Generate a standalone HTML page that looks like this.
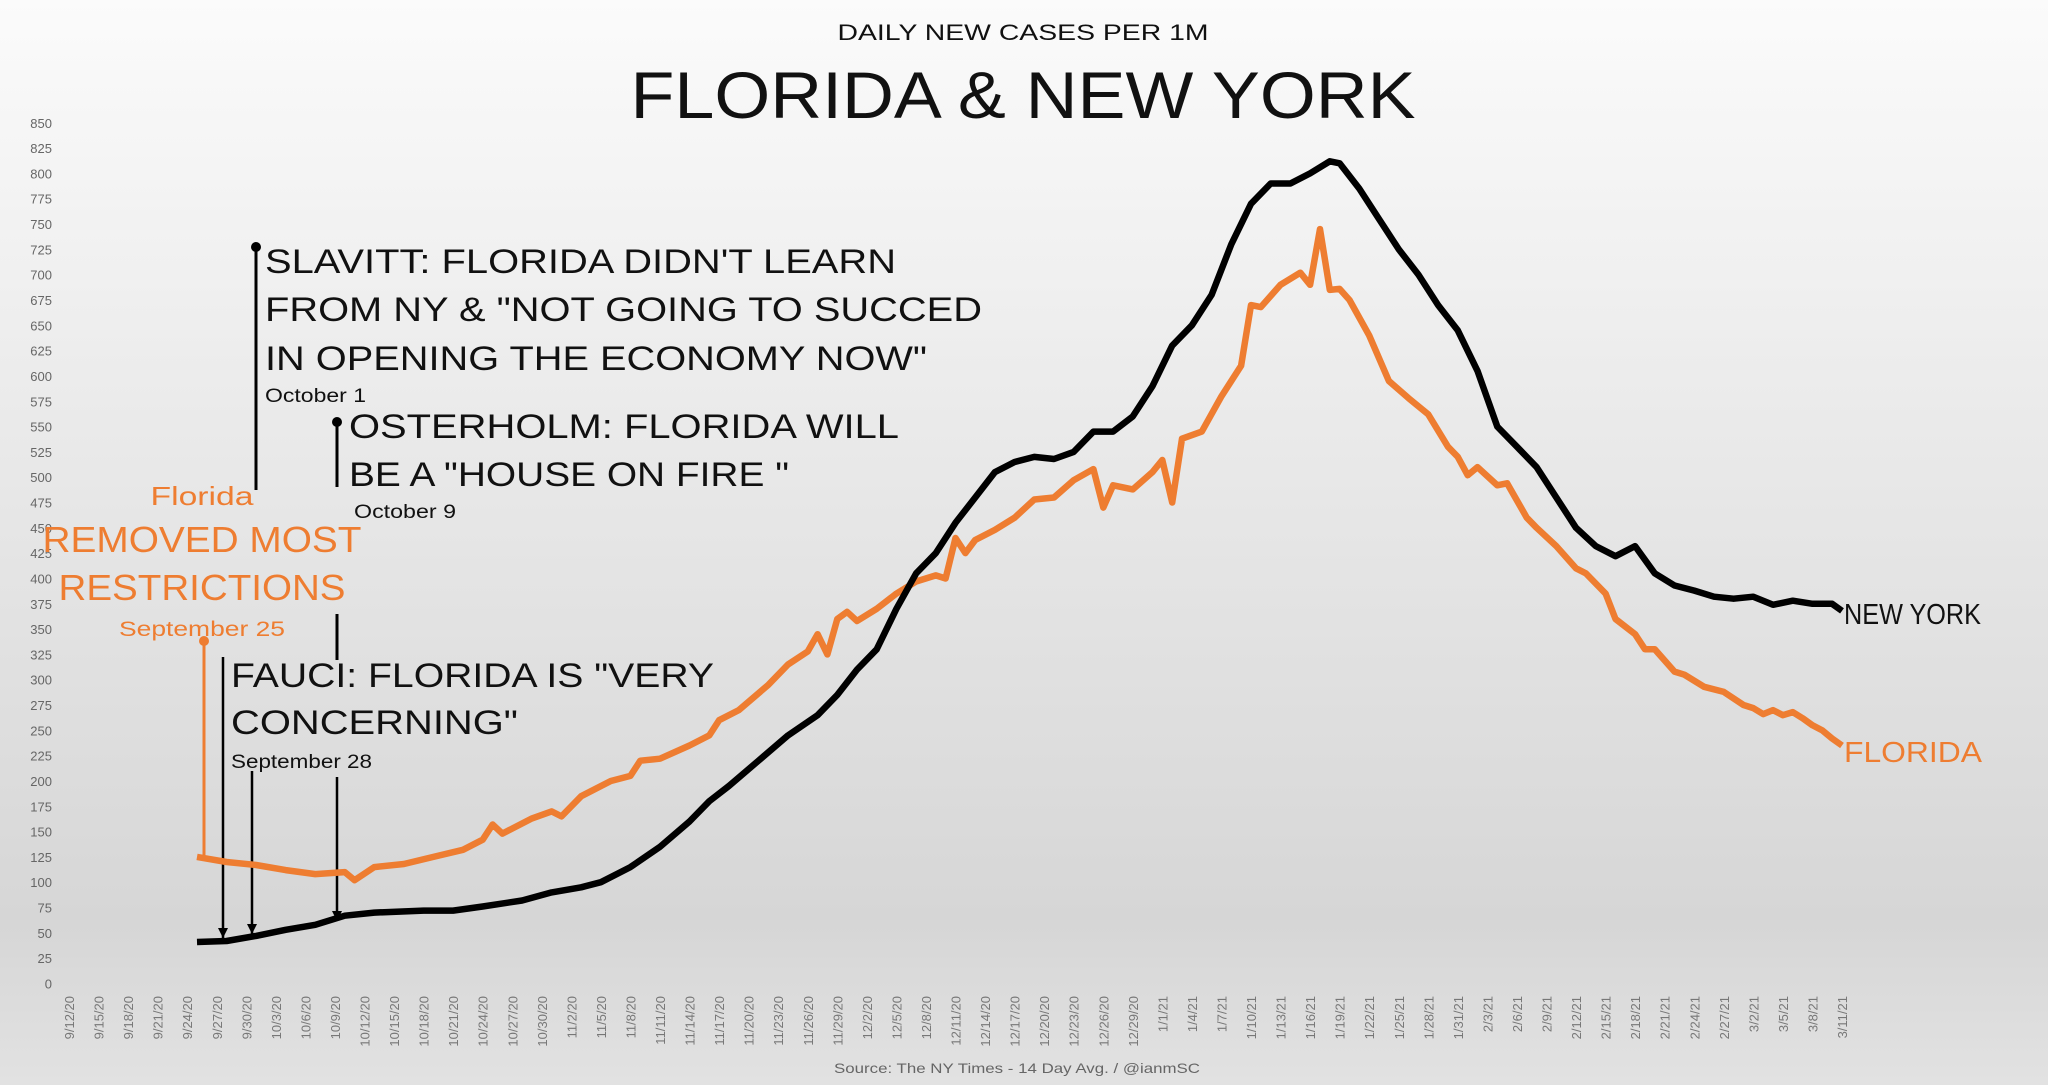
<!DOCTYPE html>
<html><head><meta charset="utf-8"><style>
html,body{margin:0;padding:0;background:#fff}
svg{display:block;font-family:"Liberation Sans",sans-serif}
</style></head><body>
<svg id="chart" width="2048" height="1085" viewBox="0 0 2048 1085">
<defs><linearGradient id="bg" x1="0" y1="0" x2="0" y2="1">
<stop offset="0" stop-color="#fbfbfb"/><stop offset="0.85" stop-color="#d6d6d6"/><stop offset="1" stop-color="#e2e2e2"/></linearGradient>
<marker id="arr" markerWidth="12" markerHeight="12" refX="10" refY="5" orient="auto" markerUnits="userSpaceOnUse"><path d="M0,0 L10,5 L0,10 Z" fill="#000"/></marker></defs>
<rect x="0" y="0" width="2048" height="1085" fill="url(#bg)"/>
<text x="1023" y="40" font-size="22" text-anchor="middle" fill="#111" textLength="371" lengthAdjust="spacingAndGlyphs">DAILY NEW CASES PER 1M</text>
<text x="1023" y="118" font-size="66" text-anchor="middle" fill="#111" textLength="785" lengthAdjust="spacingAndGlyphs">FLORIDA &amp; NEW YORK</text>
<text x="1017" y="1073" font-size="14" text-anchor="middle" fill="#666" textLength="366" lengthAdjust="spacingAndGlyphs">Source: The NY Times - 14 Day Avg. / @ianmSC</text>
<g id="yaxis"></g>
<g id="xaxis"></g>
<g>
<text x="202" y="505" font-size="26" text-anchor="middle" fill="#ee7d31" textLength="103" lengthAdjust="spacingAndGlyphs">Florida</text>
<text x="202" y="552" font-size="36" text-anchor="middle" fill="#ee7d31" textLength="319" lengthAdjust="spacingAndGlyphs">REMOVED MOST</text>
<text x="202" y="600" font-size="36" text-anchor="middle" fill="#ee7d31" textLength="287" lengthAdjust="spacingAndGlyphs">RESTRICTIONS</text>
<text x="202" y="636" font-size="21" text-anchor="middle" fill="#ee7d31" textLength="166" lengthAdjust="spacingAndGlyphs">September 25</text>
<line x1="204" y1="641" x2="204" y2="858" stroke="#ee7d31" stroke-width="3"/>
<circle cx="204" cy="641" r="5" fill="#ee7d31"/>
<line x1="256" y1="247" x2="256" y2="490" stroke="#000" stroke-width="3"/>
<circle cx="256" cy="247" r="5" fill="#000"/>
<g font-size="34" fill="#111">
<text x="265" y="273" textLength="631" lengthAdjust="spacingAndGlyphs">SLAVITT: FLORIDA DIDN'T LEARN</text>
<text x="265" y="321" textLength="717" lengthAdjust="spacingAndGlyphs">FROM NY &amp; "NOT GOING TO SUCCED</text>
<text x="265" y="370" textLength="662" lengthAdjust="spacingAndGlyphs">IN OPENING THE ECONOMY NOW"</text></g>
<text x="265" y="402" font-size="19" fill="#111" textLength="101" lengthAdjust="spacingAndGlyphs">October 1</text>
<line x1="337" y1="422" x2="337" y2="487" stroke="#000" stroke-width="3"/>
<circle cx="337" cy="422" r="5" fill="#000"/>
<g font-size="34" fill="#111">
<text x="349" y="438" textLength="550" lengthAdjust="spacingAndGlyphs">OSTERHOLM:  FLORIDA WILL</text>
<text x="349" y="486" textLength="440" lengthAdjust="spacingAndGlyphs">BE A "HOUSE ON FIRE "</text></g>
<text x="354" y="518" font-size="19" fill="#111" textLength="102" lengthAdjust="spacingAndGlyphs">October 9</text>
<line x1="337" y1="614" x2="337" y2="660" stroke="#000" stroke-width="3"/>
<g font-size="34" fill="#111">
<text x="231" y="687" textLength="483" lengthAdjust="spacingAndGlyphs">FAUCI: FLORIDA IS "VERY</text>
<text x="231" y="734" textLength="287" lengthAdjust="spacingAndGlyphs">CONCERNING"</text></g>
<text x="231" y="768" font-size="19" fill="#111" textLength="141" lengthAdjust="spacingAndGlyphs">September 28</text>
<line x1="223" y1="657" x2="223" y2="938" stroke="#000" stroke-width="2.5" marker-end="url(#arr)"/>
<line x1="252" y1="771" x2="252" y2="934" stroke="#000" stroke-width="2.5" marker-end="url(#arr)"/>
<line x1="337" y1="777" x2="337" y2="921" stroke="#000" stroke-width="2.5" marker-end="url(#arr)"/>
</g>
<g id="series"></g>
<text x="1844" y="624" font-size="29" fill="#111" textLength="137" lengthAdjust="spacingAndGlyphs">NEW YORK</text>
<text x="1844" y="762" font-size="29" fill="#ee7d31" textLength="138" lengthAdjust="spacingAndGlyphs">FLORIDA</text>
</svg>
<script>
const yTicks=[0,25,50,75,100,125,150,175,200,225,250,275,300,325,350,375,400,425,450,475,500,525,550,575,600,625,650,675,700,725,750,775,800,825,850];
const nyDates=["9/25","9/28","10/1","10/4","10/7","10/10","10/13","10/18","10/21","10/24","10/28","10/31","11/3","11/5","11/8","11/11","11/14","11/16","11/18","11/21","11/24","11/27","11/29","12/1","12/3","12/5","12/7","12/9","12/11","12/13","12/15","12/17","12/19","12/21","12/23","12/25","12/27","12/29","12/31","1/2","1/4","1/6","1/8","1/10","1/12","1/14","1/16","1/18","1/19","1/21","1/23","1/25","1/27","1/29","1/31","2/2","2/4","2/6","2/8","2/10","2/12","2/14","2/16","2/18","2/20","2/22","2/24","2/26","2/28","3/2","3/4","3/6","3/8","3/10","3/11"];
const nyValues=[41,42,47,53,58,67,70,72,72,76,82,90,95,100,115,135,160,180,195,220,245,265,285,310,330,370,405,425,455,480,505,515,520,518,525,545,545,560,590,630,650,680,730,770,790,790,800,812,810,785,755,725,700,670,645,605,550,530,510,480,450,432,422,432,405,393,388,382,380,382,374,378,375,375,368];
const flDates=["9/25","9/28","10/1","10/4","10/7","10/10","10/11","10/13","10/16","10/19","10/22","10/24","10/25","10/26","10/29","10/31","11/1","11/3","11/6","11/8","11/9","11/11","11/14","11/16","11/17","11/19","11/22","11/24","11/26","11/27","11/28","11/29","11/30","12/1","12/3","12/5","12/7","12/9","12/10","12/11","12/12","12/13","12/15","12/17","12/19","12/21","12/23","12/25","12/26","12/27","12/29","12/31","1/1","1/2","1/3","1/5","1/7","1/9","1/10","1/11","1/13","1/15","1/16","1/17","1/18","1/19","1/20","1/22","1/24","1/26","1/28","1/30","1/31","2/1","2/2","2/4","2/5","2/7","2/8","2/10","2/12","2/13","2/15","2/16","2/18","2/19","2/20","2/22","2/23","2/25","2/27","3/1","3/2","3/3","3/4","3/5","3/6","3/7","3/8","3/9","3/10","3/11"];
const flValues=[125,120,117,112,108,110,102,115,118,125,132,142,157,148,163,170,165,185,200,205,220,222,235,245,260,270,295,315,328,345,325,360,367,358,370,385,397,403,400,440,425,438,448,460,478,480,497,508,470,492,488,505,517,475,538,545,580,610,670,668,690,702,690,745,685,686,675,640,595,578,562,530,520,502,510,492,494,460,450,432,410,405,385,360,345,330,330,308,305,293,288,275,272,266,270,265,268,262,255,250,242,235];
const NS="http://www.w3.org/2000/svg";
const monthStart={9:-12,10:18,11:49,12:79,1:110,2:141,3:169};
function dayIdx(s){const [m,d]=s.split("/").map(Number);return monthStart[m]+d;}
function xs(d){return 69+d*9.85;}
function ys(v){return 983.5-v*1.0126;}
const yg=document.getElementById("yaxis");
yTicks.forEach(t=>{const e=document.createElementNS(NS,"text");
e.setAttribute("x",52);e.setAttribute("y",ys(t)+5);e.setAttribute("text-anchor","end");
e.setAttribute("font-size","13");e.setAttribute("fill","#666");e.textContent=t;


yg.appendChild(e);});
const xg=document.getElementById("xaxis");
const startDate=new Date(2020,8,12);
for(let d=0;d<=180;d+=3){const dt=new Date(startDate.getTime()+d*86400000);
const lbl=(dt.getMonth()+1)+"/"+dt.getDate()+"/"+String(dt.getFullYear()).slice(2);
const e=document.createElementNS(NS,"text");const x=xs(d)+5,y=996;
e.setAttribute("x",x);e.setAttribute("y",y);e.setAttribute("transform","rotate(-90 "+x+" "+y+")");
e.setAttribute("text-anchor","end");e.setAttribute("font-size","13");e.setAttribute("fill","#777");e.textContent=lbl;


xg.appendChild(e);}
const sg=document.getElementById("series");
function line(dates,vals,color,name){const p=document.createElementNS(NS,"polyline");
p.setAttribute("points",dates.map((s,i)=>xs(dayIdx(s)).toFixed(1)+","+ys(vals[i]).toFixed(1)).join(" "));
p.setAttribute("fill","none");p.setAttribute("stroke",color);p.setAttribute("stroke-width","6.5");p.setAttribute("stroke-linejoin","round");


sg.appendChild(p);}
line(flDates,flValues,"#ee7d31","florida-line");
line(nyDates,nyValues,"#000","new-york-line");
</script>
</body></html>
